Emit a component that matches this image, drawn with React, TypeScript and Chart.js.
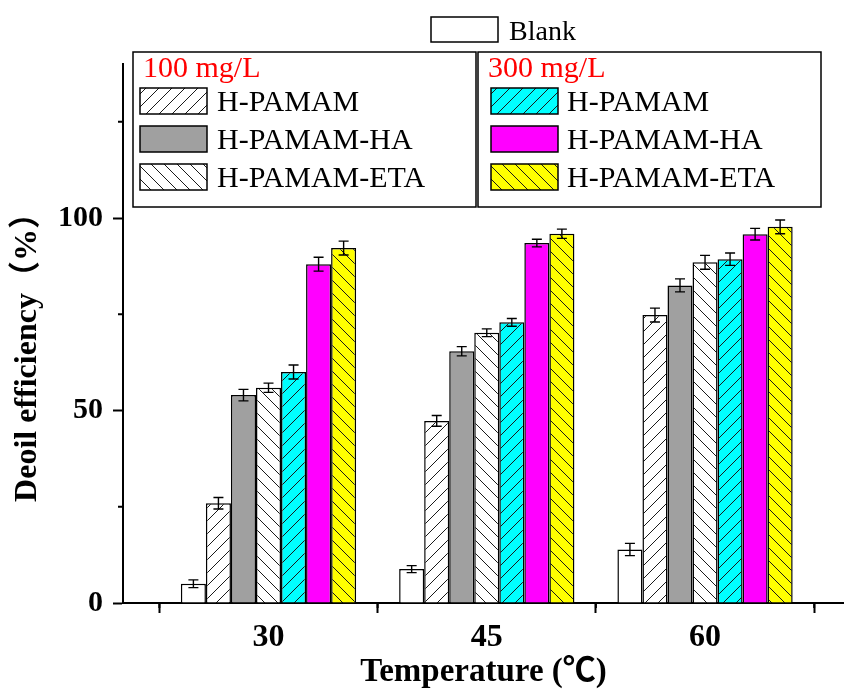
import React, { useEffect, useRef } from 'react';
import { Chart, registerables } from 'chart.js';

Chart.register(...registerables);

// ---- data ----
const temperatures = [30, 45, 60];
const xTickLabels = ['30', '45', '60'];
const xMinorTicks = [22.5, 37.5, 52.5, 67.5];
const yTicks = [0, 50, 100];
const yMinorTicks = [25, 75, 125];

const blank = [5.0, 8.8, 13.9];
const blankErr = [1.0, 0.9, 1.6];
const hpamam100 = [25.9, 47.3, 74.8];
const hpamam100Err = [1.5, 1.4, 1.8];
const hpamamHA100 = [54.0, 65.4, 82.5];
const hpamamHA100Err = [1.5, 1.2, 1.7];
const hpamamETA100 = [55.9, 70.2, 88.5];
const hpamamETA100Err = [1.2, 1.0, 1.8];
const hpamam300 = [60.0, 72.9, 89.3];
const hpamam300Err = [1.8, 1.0, 1.6];
const hpamamHA300 = [88.0, 93.5, 95.8];
const hpamamHA300Err = [1.8, 1.0, 1.5];
const hpamamETA300 = [92.2, 95.9, 97.7];
const hpamamETA300Err = [1.8, 1.2, 1.8];

const seriesNames = ['Blank', 'H-PAMAM', 'H-PAMAM-HA', 'H-PAMAM-ETA', 'H-PAMAM', 'H-PAMAM-HA', 'H-PAMAM-ETA'];
const groupTitles = ['100 mg/L', '300 mg/L'];

const SERIF = "'Liberation Serif', 'Times New Roman', 'Noto Sans CJK SC', serif";

function hatch(bg: string, dir: 'fwd' | 'back'): CanvasPattern | string {
  const s = 13;
  const c = document.createElement('canvas');
  c.width = s;
  c.height = s;
  const g = c.getContext('2d');
  if (!g) return bg;
  g.fillStyle = bg;
  g.fillRect(0, 0, s, s);
  g.strokeStyle = '#1a1a1a';
  g.lineWidth = 1;
  g.beginPath();
  for (const k of [-s, 0, s]) {
    if (dir === 'fwd') {
      g.moveTo(k, s);
      g.lineTo(k + s, 0);
    } else {
      g.moveTo(k, 0);
      g.lineTo(k + s, s);
    }
  }
  g.stroke();
  const p = g.createPattern(c, 'repeat');
  return p || bg;
}

export default function App() {
  const ref = useRef<HTMLCanvasElement | null>(null);

  useEffect(() => {
    const canvas = ref.current;
    if (!canvas) return;

    const values = [blank, hpamam100, hpamamHA100, hpamamETA100, hpamam300, hpamamHA300, hpamamETA300];
    const errors = [blankErr, hpamam100Err, hpamamHA100Err, hpamamETA100Err, hpamam300Err, hpamamHA300Err, hpamamETA300Err];
    const fills = [
      '#ffffff',
      hatch('#ffffff', 'fwd'),
      '#a0a0a0',
      hatch('#ffffff', 'back'),
      hatch('#00ffff', 'fwd'),
      '#ff00ff',
      hatch('#ffff00', 'back'),
    ];

    const datasets = values.map((vals, i) => ({
      label: seriesNames[i],
      data: temperatures.map((t, j) => ({ x: t, y: vals[j] })),
      backgroundColor: fills[i] as any,
      borderColor: '#000000',
      borderWidth: 1.5,
      barPercentage: 1,
      categoryPercentage: 0.803,
    }));

    const extras = {
      id: 'extras',
      afterDatasetsDraw(chart: any) {
        const ctx = chart.ctx;
        const ys = chart.scales.y;
        ctx.save();
        ctx.strokeStyle = '#000';
        ctx.lineWidth = 1.4;
        chart.data.datasets.forEach((_ds: any, i: number) => {
          const meta = chart.getDatasetMeta(i);
          meta.data.forEach((el: any, j: number) => {
            const v = values[i][j];
            const e = errors[i][j];
            const yt = ys.getPixelForValue(v + e);
            const yb = ys.getPixelForValue(v - e);
            const x = el.x;
            const hw = 5;
            ctx.beginPath();
            ctx.moveTo(x, yt);
            ctx.lineTo(x, yb);
            ctx.moveTo(x - hw, yt);
            ctx.lineTo(x + hw, yt);
            ctx.moveTo(x - hw, yb);
            ctx.lineTo(x + hw, yb);
            ctx.stroke();
          });
        });
        ctx.restore();
      },
      afterDraw(chart: any) {
        const ctx = chart.ctx;
        const { left, bottom, top } = chart.chartArea;
        const xs = chart.scales.x;
        const ys = chart.scales.y;
        ctx.save();
        // minor ticks
        ctx.strokeStyle = '#000';
        ctx.lineWidth = 2;
        ctx.beginPath();
        yMinorTicks.forEach((v) => {
          const y = ys.getPixelForValue(v);
          ctx.moveTo(left, y);
          ctx.lineTo(left - 5, y);
        });
        xMinorTicks.forEach((v) => {
          const x = xs.getPixelForValue(v);
          ctx.moveTo(x, bottom);
          ctx.lineTo(x, bottom + 5);
        });
        ctx.stroke();

        // y title
        ctx.save();
        ctx.translate(28, (top + bottom) / 2 + 16);
        ctx.rotate(-Math.PI / 2);
        ctx.fillStyle = '#000';
        ctx.font = `bold 32px ${SERIF}`;
        ctx.textAlign = 'center';
        ctx.textBaseline = 'middle';
        ctx.fillText('Deoil efficiency（%）', 0, 0);
        ctx.restore();

        // legend: Blank
        ctx.lineWidth = 1.5;
        ctx.fillStyle = fills[0] as any;
        ctx.fillRect(431, 17, 67, 25);
        ctx.strokeRect(431, 17, 67, 25);
        ctx.fillStyle = '#000';
        ctx.font = `28px ${SERIF}`;
        ctx.textAlign = 'left';
        ctx.textBaseline = 'alphabetic';
        ctx.fillText(seriesNames[0], 509, 40);

        // grouped legend boxes
        const boxes = [
          { x: 133, sw: 140, tx: 217, first: 1 },
          { x: 478, sw: 491, tx: 567, first: 4 },
        ];
        boxes.forEach((b, bi) => {
          ctx.fillStyle = '#fff';
          ctx.fillRect(b.x, 52, 343, 155);
          ctx.strokeStyle = '#000';
          ctx.lineWidth = 1.5;
          ctx.strokeRect(b.x, 52, 343, 155);
          ctx.fillStyle = '#ff0000';
          ctx.font = `30px ${SERIF}`;
          ctx.fillText(groupTitles[bi], b.x + 10, 77);
          for (let r = 0; r < 3; r++) {
            const idx = b.first + r;
            const sy = 88 + 38 * r;
            ctx.fillStyle = fills[idx] as any;
            ctx.fillRect(b.sw, sy, 67, 26);
            ctx.strokeRect(b.sw, sy, 67, 26);
            ctx.fillStyle = '#000';
            ctx.font = `30px ${SERIF}`;
            ctx.fillText(seriesNames[idx], b.tx, 111 + 38 * r);
          }
        });
        ctx.restore();
      },
    };

    const chart = new Chart(canvas, {
      type: 'bar',
      data: { datasets: datasets as any },
      options: {
        animation: false,
        responsive: false,
        events: [],
        layout: { padding: { top: 64, left: 0, right: 0, bottom: 0 } },
        plugins: {
          legend: { display: false },
          tooltip: { enabled: false },
          title: { display: false },
        },
        scales: {
          x: {
            type: 'linear',
            min: 20,
            max: 69.55,
            bounds: 'data',
            offset: false,
            afterFit: (s: any) => {
              s.height = 90;
            },
            afterBuildTicks: (s: any) => {
              s.ticks = temperatures.map((v) => ({ value: v }));
            },
            ticks: {
              autoSkip: false,
              maxRotation: 0,
              padding: 6,
              color: '#000',
              font: { family: SERIF, size: 32, weight: 'bold' },
              callback: (v: any) => xTickLabels[temperatures.indexOf(Number(v))] ?? '',
            },
            grid: {
              drawOnChartArea: false,
              drawTicks: true,
              tickLength: 10,
              tickWidth: 2,
              tickColor: '#000',
            },
            border: { display: true, color: '#000', width: 2 },
            title: {
              display: true,
              text: 'Temperature (℃)',
              color: '#000',
              font: { family: SERIF, size: 33, weight: 'bold' },
              padding: { top: 0, bottom: 1 },
            },
          },
          y: {
            type: 'linear',
            min: 0,
            max: 140,
            bounds: 'data',
            afterFit: (s: any) => {
              s.width = 123;
            },
            afterBuildTicks: (s: any) => {
              s.ticks = yTicks.map((v) => ({ value: v }));
            },
            ticks: {
              autoSkip: false,
              padding: 10,
              color: '#000',
              font: { family: SERIF, size: 30, weight: 'bold' },
              callback: (v: any) => String(v),
            },
            grid: {
              drawOnChartArea: false,
              drawTicks: true,
              tickLength: 10,
              tickWidth: 2,
              tickColor: '#000',
            },
            border: { display: true, color: '#000', width: 2 },
          },
        },
      },
      plugins: [extras],
    });

    return () => {
      chart.destroy();
    };
  }, []);

  return (
    <div style={{ position: 'fixed', left: 0, top: 0, width: 844, height: 693, background: '#fff' }}>
      <canvas ref={ref} width={844} height={693} style={{ display: 'block', width: 844, height: 693 }} />
    </div>
  );
}
